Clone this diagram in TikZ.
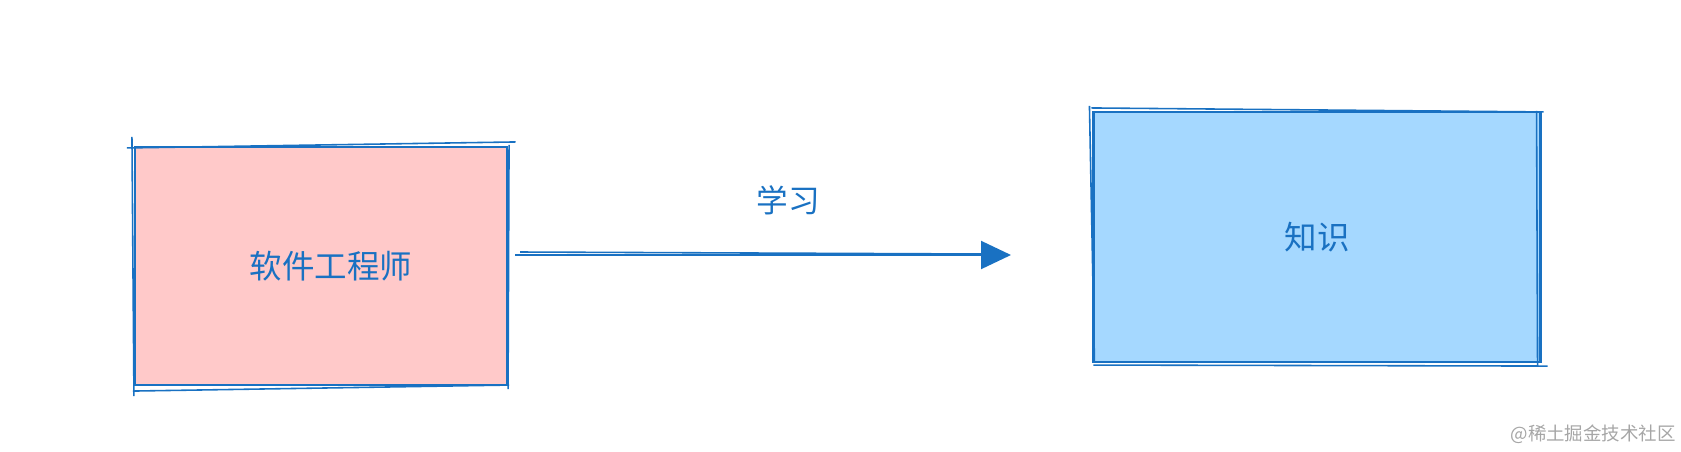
\documentclass[tikz,border=0pt]{standalone}
\usepackage{fontspec}
\newfontfamily\cjk{Noto Sans CJK SC}
\usetikzlibrary{arrows.meta, positioning, calc}
\definecolor{strokeblue}{HTML}{1971C2}
\definecolor{pinkfill}{HTML}{FFC9C9}
\definecolor{bluefill}{HTML}{A5D8FF}
\tikzstyle{arrow} = [line width=1.2pt, draw=strokeblue, -{Triangle[length=0.6cm, width=0.56cm]}]
\tikzstyle{box} = [
rectangle, draw=strokeblue, line width=1.2pt, text=strokeblue,
text centered, font=\cjk\fontsize{18.5}{22}\selectfont
]
\tikzstyle{sketch} = [draw=strokeblue, line width=0.9pt]
\tikzstyle{tag} = [text=strokeblue, font=\cjk\fontsize{18}{22}\selectfont]

\begin{document}
\begin{tikzpicture}
			\useasboundingbox (0,0) rectangle (33.62,9.02);
			% Caixas
			\node (engineer) [box, fill=pinkfill, minimum width=7.44cm, minimum height=4.76cm] at (6.42,3.70) {\hspace*{0.4cm}软件工程师};
			\node (knowledge) [box, fill=bluefill, minimum width=8.94cm, minimum height=5.0cm] at (26.34,4.28) {知识};

			% Segundo traço
			\draw [sketch] ($(engineer.north west)+(-0.14,-0.04)$) -- ($(engineer.north east)+(0.15,0.08)$);
			\draw [sketch] ($(engineer.south west)+(-0.02,-0.1)$) -- ($(engineer.south east)+(0.02,0.02)$);
			\draw [sketch] ($(engineer.north west)+(-0.04,0.18)$) -- ($(engineer.south west)+(0,-0.2)$);
			\draw [sketch] ($(engineer.north east)+(0.02,0.02)$) -- ($(engineer.south east)+(0,-0.06)$);
			\draw [sketch] ($(knowledge.north west)+(-0.02,0.06)$) -- ($(knowledge.north east)+(0.04,-0.02)$);
			\draw [sketch] ($(knowledge.south west)+(0.02,-0.04)$) -- ($(knowledge.south east)+(0.12,-0.06)$);
			\draw [sketch] ($(knowledge.north west)+(-0.06,0.1)$) -- ($(knowledge.south west)+(0.04,0.04)$);
			\draw [sketch] ($(knowledge.north east)+(-0.1,0)$) -- ($(knowledge.south east)+(-0.08,-0.04)$);

			% Seta
			\coordinate (start) at (10.30,3.92);
			\coordinate (end) at (20.22,3.92);
			\draw [arrow] (start) -- (end);
			\draw [sketch] ($(start)+(0.1,0.06)$) -- ($(end)+(-0.6,0.02)$);
			\node (learn) [tag] at (15.76,5.02) {学习};

			% Marca
			\node (mark) [anchor=east, inner sep=0pt, font=\cjk\fontsize{10.5}{13}\selectfont, text=black!35] at (33.52,0.34) {@稀土掘金技术社区};
\end{tikzpicture}
\end{document}
